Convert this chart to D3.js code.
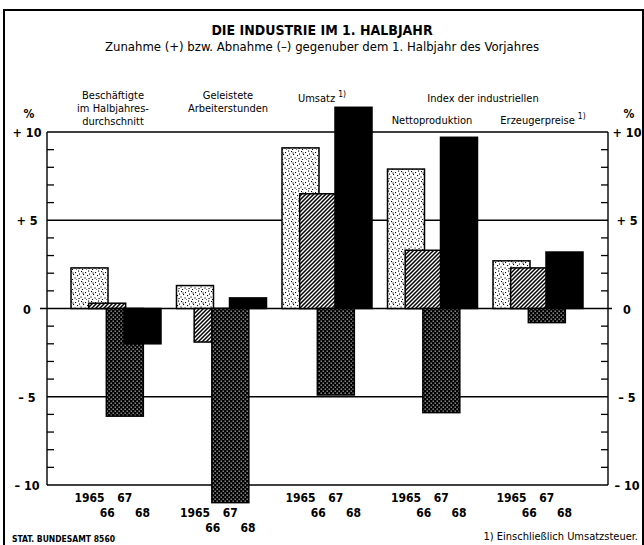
<!DOCTYPE html>
<html>
<head>
<meta charset="utf-8">
<script src="https://cdn.jsdelivr.net/npm/d3@7"></script>
<style>
  body { margin: 0; background: #fff; }
  text { font-family: "Liberation Sans Narrow", "DejaVu Sans Condensed", "Arial Narrow", sans-serif; fill: #000; }
</style>
</head>
<body>
<div id="chart"></div>
<script>
// data (% change vs. first half of previous year)
const groups = ["Beschäftigte", "Arbeiterstunden", "Umsatz", "Nettoproduktion", "Erzeugerpreise"];
const years = ["1965", "66", "67", "68"];
const v1965 = [2.3, 1.3, 9.1, 7.9, 2.7];
const v1966 = [0.3, -1.9, 6.5, 3.3, 2.3];
const v1967 = [-6.1, -11.0, -4.9, -5.9, -0.8];
const v1968 = [-2.0, 0.6, 11.4, 9.7, 3.2];
const yTickValues = [10, 5, 0, -5, -10];
const yTickLabels = ["+ 10", "+ 5", "0", "\u2013 5", "\u2013 10"];

const seriesValues = [v1965, v1966, v1967, v1968];

// dimensions
const width = 644;
const height = 545;
const PLOT_LEFT = 47;
const PLOT_RIGHT = 608;
const PLOT_TOP = 132;
const PLOT_BOTTOM = 485;
const BAR_WIDTH = 37;
const LABEL_ROW_Y = [497, 512, 527];

const svg = d3.select("#chart")
  .append("svg")
  .attr("width", width)
  .attr("height", height);

// ------ PATTERNS ------ //
const defs = svg.append("defs");

// light stipple for 1965
const stipple = defs.append("pattern")
  .attr("id", "p1965")
  .attr("patternUnits", "userSpaceOnUse")
  .attr("width", 10).attr("height", 10);
stipple.append("rect").attr("width", 10).attr("height", 10).attr("fill", "#fff");
[[1, 1], [5, 2], [8, 0.5], [3, 4], [7, 5], [0.5, 6.5], [4.5, 7.5], [8.5, 8], [2, 9], [6, 9.5], [9, 3.5], [2.5, 2.5]]
  .forEach(([x, y]) => stipple.append("rect")
    .attr("x", x).attr("y", y).attr("width", 1.1).attr("height", 1.1).attr("fill", "#000"));

// diagonal hatch for 1966
const hatch = defs.append("pattern")
  .attr("id", "p1966")
  .attr("patternUnits", "userSpaceOnUse")
  .attr("width", 4).attr("height", 4);
hatch.append("rect").attr("width", 4).attr("height", 4).attr("fill", "#fff");
hatch.append("path")
  .attr("d", "M-1,1 L1,-1 M0,4 L4,0 M3,5 L5,3")
  .attr("stroke", "#000").attr("stroke-width", 1.5);

// dark dotted for 1967
const dotted = defs.append("pattern")
  .attr("id", "p1967")
  .attr("patternUnits", "userSpaceOnUse")
  .attr("width", 4).attr("height", 4);
dotted.append("rect").attr("width", 4).attr("height", 4).attr("fill", "#000");
dotted.append("rect").attr("x", 0.6).attr("y", 0.6).attr("width", 1.1).attr("height", 1.1).attr("fill", "#fff");
dotted.append("rect").attr("x", 2.6).attr("y", 2.6).attr("width", 1.1).attr("height", 1.1).attr("fill", "#fff");

const FILLS = ["url(#p1965)", "url(#p1966)", "url(#p1967)", "#000"];

// ------ SCALES ------ //
const y = d3.scaleLinear().domain([-10, 10]).range([PLOT_BOTTOM, PLOT_TOP]);
const xGroup = d3.scalePoint().domain(groups).range([71, 493]);
const xYear = d3.scalePoint().domain(years).range([0, 53]);

// outer frame
svg.append("path")
  .attr("d", `M4,${height + 5} L4,10 L643,10 L643,${height + 5}`)
  .attr("fill", "none")
  .attr("stroke", "#000")
  .attr("stroke-width", 2);

// title
svg.append("text")
  .attr("x", 322).attr("y", 35)
  .attr("text-anchor", "middle")
  .style("font-size", "14px").style("font-weight", "bold")
  .text("DIE INDUSTRIE IM 1. HALBJAHR");

svg.append("text")
  .attr("x", 322).attr("y", 51)
  .attr("text-anchor", "middle")
  .style("font-size", "13px")
  .text("Zunahme (+) bzw. Abnahme (\u2013) gegenuber dem 1. Halbjahr des Vorjahres");

// ------ GRID AND AXES ------ //
const grid = svg.append("g");

// horizontal lines at +10, +5, 0, -5, -10
grid.selectAll("line.h")
  .data(yTickValues)
  .enter()
  .append("line")
  .attr("x1", (d) => (d === 0 ? PLOT_LEFT - 7 : PLOT_LEFT))
  .attr("x2", (d) => (d === 0 ? PLOT_RIGHT + 4 : PLOT_RIGHT))
  .attr("y1", (d) => y(d))
  .attr("y2", (d) => y(d))
  .attr("stroke", "#000")
  .attr("stroke-width", 1.4);

// vertical axes
[PLOT_LEFT, PLOT_RIGHT].forEach((x) => {
  grid.append("line")
    .attr("x1", x).attr("x2", x)
    .attr("y1", y(10)).attr("y2", y(-10))
    .attr("stroke", "#000").attr("stroke-width", 1.4);
});

// minor ticks every 1 %, pointing inside
const minorTicks = d3.range(-9, 10).filter((d) => d % 5 !== 0);
grid.selectAll("line.tl")
  .data(minorTicks)
  .enter()
  .append("line")
  .attr("x1", PLOT_LEFT).attr("x2", PLOT_LEFT + 7)
  .attr("y1", (d) => y(d)).attr("y2", (d) => y(d))
  .attr("stroke", "#000").attr("stroke-width", 1.3);
grid.selectAll("line.tr")
  .data(minorTicks)
  .enter()
  .append("line")
  .attr("x1", PLOT_RIGHT - 7).attr("x2", PLOT_RIGHT)
  .attr("y1", (d) => y(d)).attr("y2", (d) => y(d))
  .attr("stroke", "#000").attr("stroke-width", 1.3);

// tick labels both sides
[27, 627].forEach((x) => {
  svg.append("g")
    .selectAll("text")
    .data(yTickValues)
    .enter()
    .append("text")
    .attr("x", x)
    .attr("y", (d) => y(d) + 5)
    .attr("text-anchor", "middle")
    .style("font-size", "12.5px").style("font-weight", "bold")
    .text((d, i) => yTickLabels[i]);

  svg.append("text")
    .attr("x", x + 2).attr("y", 118)
    .attr("text-anchor", "middle")
    .style("font-size", "12px").style("font-weight", "bold")
    .text("%");
});

// ------ BARS ------ //
const bars = [];
seriesValues.forEach((vals, s) => {
  vals.forEach((v, g) => {
    bars.push({ group: groups[g], year: years[s], s: s, value: v });
  });
});

svg.append("g")
  .selectAll("rect")
  .data(bars)
  .enter()
  .append("rect")
  .attr("x", (d) => xGroup(d.group) + xYear(d.year))
  .attr("y", (d) => y(Math.max(0, d.value)))
  .attr("width", BAR_WIDTH)
  .attr("height", (d) => Math.abs(y(d.value) - y(0)))
  .attr("fill", (d) => FILLS[d.s])
  .attr("stroke", "#000")
  .attr("stroke-width", 1.5);

// year labels under the groups (pushed one row down where a bar runs below -10)
const groupMin = groups.map((g, i) => d3.min(seriesValues, (sv) => sv[i]));

svg.append("g")
  .selectAll("text")
  .data(bars)
  .enter()
  .append("text")
  .attr("x", (d) => xGroup(d.group) + xYear(d.year) + BAR_WIDTH / 2)
  .attr("y", (d) => {
    const shift = groupMin[groups.indexOf(d.group)] < -10 ? 1 : 0;
    return LABEL_ROW_Y[(d.s % 2) + shift] + 5;
  })
  .attr("text-anchor", "middle")
  .style("font-size", "12px").style("font-weight", "bold")
  .text((d) => d.year);

// ------ GROUP HEADERS ------ //
const headers = [
  { x: 113, y: 99, t: "Beschäftigte" },
  { x: 113, y: 112, t: "im Halbjahres-" },
  { x: 113, y: 125, t: "durchschnitt" },
  { x: 228, y: 99, t: "Geleistete" },
  { x: 228, y: 112, t: "Arbeiterstunden" },
  { x: 322, y: 102, t: "Umsatz", note: true },
  { x: 483, y: 102, t: "Index der industriellen" },
  { x: 432, y: 124, t: "Nettoproduktion" },
  { x: 543, y: 124, t: "Erzeugerpreise", note: true }
];

headers.forEach((h) => {
  const t = svg.append("text")
    .attr("x", h.x).attr("y", h.y)
    .attr("text-anchor", "middle")
    .style("font-size", "11px");
  t.append("tspan").text(h.t);
  if (h.note) {
    t.append("tspan").attr("dx", 3).attr("dy", -5).style("font-size", "8.5px").text("1)");
  }
});

// ------ FOOTER ------ //
svg.append("text")
  .attr("x", 12).attr("y", 542)
  .style("font-size", "8.5px").style("font-weight", "bold")
  .text("STAT. BUNDESAMT 8560");

svg.append("text")
  .attr("x", 638).attr("y", 540)
  .attr("text-anchor", "end")
  .style("font-size", "11px")
  .text("1) Einschließlich Umsatzsteuer.");
</script>
</body>
</html>
